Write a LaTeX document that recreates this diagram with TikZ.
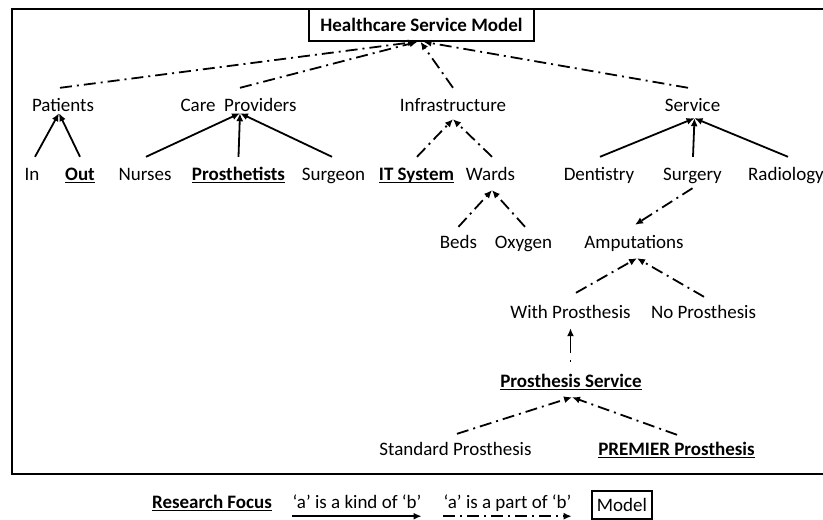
\documentclass[tikz,border=0pt]{standalone}
\usepackage{fontspec}
\setmainfont{Carlito}
\usetikzlibrary{arrows.meta}
\newcommand\ulb[1]{\setbox0=\hbox{\bfseries #1}\rlap{\copy0}\rule[-3.2pt]{\wd0}{1.4pt}}
\begin{document}
\begin{tikzpicture}[x=1pt,y=-1pt,
  lbl/.style={inner sep=0pt, anchor=base, text height=13pt, text depth=4pt, font=\fontsize{19}{23}\selectfont},
  kind/.style={line width=1.8pt, -{Latex[length=8pt,width=7pt]}},
  part/.style={kind, dash pattern=on 12pt off 5pt on 2pt off 5pt},
  boxed/.style={draw, inner sep=0pt, font=\fontsize{19}{23}\selectfont}
  ]
\useasboundingbox (0,0) rectangle (823,520);
% outer frame
\draw[line width=2.5pt] (823,9) -- (12,9) -- (12,474) -- (823,474);
% title
\node[boxed, line width=1.6pt, minimum width=225pt, minimum height=32pt, font=\fontsize{19}{23}\selectfont\bfseries] (hsm) at (421.5,25) {Healthcare Service Model};
% level 1
\node[lbl] (pat) at (63,111) {Patients};
\node[lbl] (care) at (238.5,111) {Care\ \ Providers};
\node[lbl] (infra) at (453,111) {Infrastructure};
\node[lbl] (serv) at (692.5,111) {Service};
% level 2
\node[lbl] (in) at (32,180) {In};
\node[lbl] (out) at (80,180) {\ulb{Out}};
\node[lbl] (nurses) at (145,180) {Nurses};
\node[lbl] (prosth) at (238.5,180) {\ulb{Prosthetists}};
\node[lbl] (surgeon) at (333.5,180) {Surgeon};
\node[lbl] (its) at (416.5,180) {\ulb{IT System}};
\node[lbl] (wards) at (490.5,180) {Wards};
\node[lbl] (dent) at (599,180) {Dentistry};
\node[lbl] (surg) at (692.5,180) {Surgery};
\node[lbl] (radio) at (786,180) {Radiology};
% level 3
\node[lbl] (beds) at (458.5,248) {Beds};
\node[lbl] (oxy) at (523.5,248) {Oxygen};
\node[lbl] (amp) at (634,248) {Amputations};
% level 4
\node[lbl] (withp) at (570.5,318) {With Prosthesis};
\node[lbl] (nop) at (703.5,318) {No Prosthesis};
\node[lbl] (psvc) at (571,387) {\ulb{Prosthesis Service}};
\node[lbl] (std) at (455.5,455) {Standard Prosthesis};
\node[lbl] (prem) at (676.5,455) {\ulb{PREMIER Prosthesis}};
% legend
\node[lbl] (rf) at (212,508) {\ulb{Research Focus}};
\node[lbl] (kindt) at (357,508) {‘a’ is a kind of ‘b’};
\node[lbl] (partt) at (507.5,508) {‘a’ is a part of ‘b’};
\node[boxed, line width=1.4pt, minimum width=60pt, minimum height=28pt] (model) at (622,505) {Model};
\draw[kind] ([yshift=-4pt]kindt.south west) -- ([yshift=-4pt]kindt.south east);
\draw[part] ([yshift=-4pt]partt.south west) -- ([yshift=-4pt]partt.south east);
% to title
\draw[part] ([xshift=-3pt,yshift=10pt]pat.north) -- ([xshift=-5.5pt]hsm.south);
\draw[part] ([xshift=1.5pt,yshift=10pt]care.north) -- ([xshift=-4pt]hsm.south);
\draw[part] ([yshift=10pt]infra.north) -- ([xshift=-1pt]hsm.south);
\draw[part] ([xshift=-4.5pt,yshift=10pt]serv.north) -- ([xshift=2pt]hsm.south);
% patients
\draw[kind] ([xshift=3pt,yshift=10pt]in.north) -- ([xshift=-4pt,yshift=2pt]pat.south);
\draw[kind] ([yshift=10pt]out.north) -- ([xshift=-4pt,yshift=2pt]pat.south);
% care providers
\draw[kind] ([xshift=1pt,yshift=10pt]nurses.north) -- ([xshift=1.5pt,yshift=2pt]care.south);
\draw[kind] ([yshift=10pt]prosth.north) -- ([xshift=1.5pt,yshift=2pt]care.south);
\draw[kind] ([xshift=-1.5pt,yshift=10pt]surgeon.north) -- ([xshift=1.5pt,yshift=2pt]care.south);
% infrastructure
\draw[part] ([xshift=0.5pt,yshift=10pt]its.north) -- ([yshift=-4pt]infra.south);
\draw[part] ([xshift=1.5pt,yshift=10pt]wards.north) -- ([yshift=-4pt]infra.south);
% service
\draw[kind] ([xshift=1pt,yshift=10pt]dent.north) -- ([xshift=2pt,yshift=-3pt]serv.south);
\draw[kind] ([xshift=0.5pt,yshift=10pt]surg.north) -- ([xshift=2pt,yshift=-3pt]serv.south);
\draw[kind] ([xshift=2pt,yshift=10pt]radio.north) -- ([xshift=2pt,yshift=-3pt]serv.south);
% wards
\draw[part] ([yshift=8pt]beds.north) -- ([xshift=1.5pt,yshift=-6pt]wards.south);
\draw[part] ([xshift=1.5pt,yshift=8pt]oxy.north) -- ([xshift=1.5pt,yshift=-6pt]wards.south);
% surgery -> amputations
\draw[part] ([yshift=-4pt]surg.south) -- ([xshift=1pt,yshift=10pt]amp.north);
% amputations
\draw[part] ([xshift=5.5pt,yshift=12pt]withp.north) -- ([xshift=3pt,yshift=-6pt]amp.south);
\draw[part] ([xshift=0.5pt,yshift=8pt]nop.north) -- ([xshift=3pt,yshift=-6pt]amp.south);
% prosthesis service
\draw[kind, dash pattern=on 2pt off 7pt on 40pt] ([xshift=-0.5pt,yshift=12pt]psvc.north) -- ([yshift=-6pt]withp.south);
\draw[part] ([xshift=1.5pt,yshift=8pt]std.north) -- ([xshift=1pt,yshift=-6pt]psvc.south);
\draw[part] ([xshift=0.5pt,yshift=7pt]prem.north) -- ([xshift=1pt,yshift=-6pt]psvc.south);
\end{tikzpicture}
\end{document}
